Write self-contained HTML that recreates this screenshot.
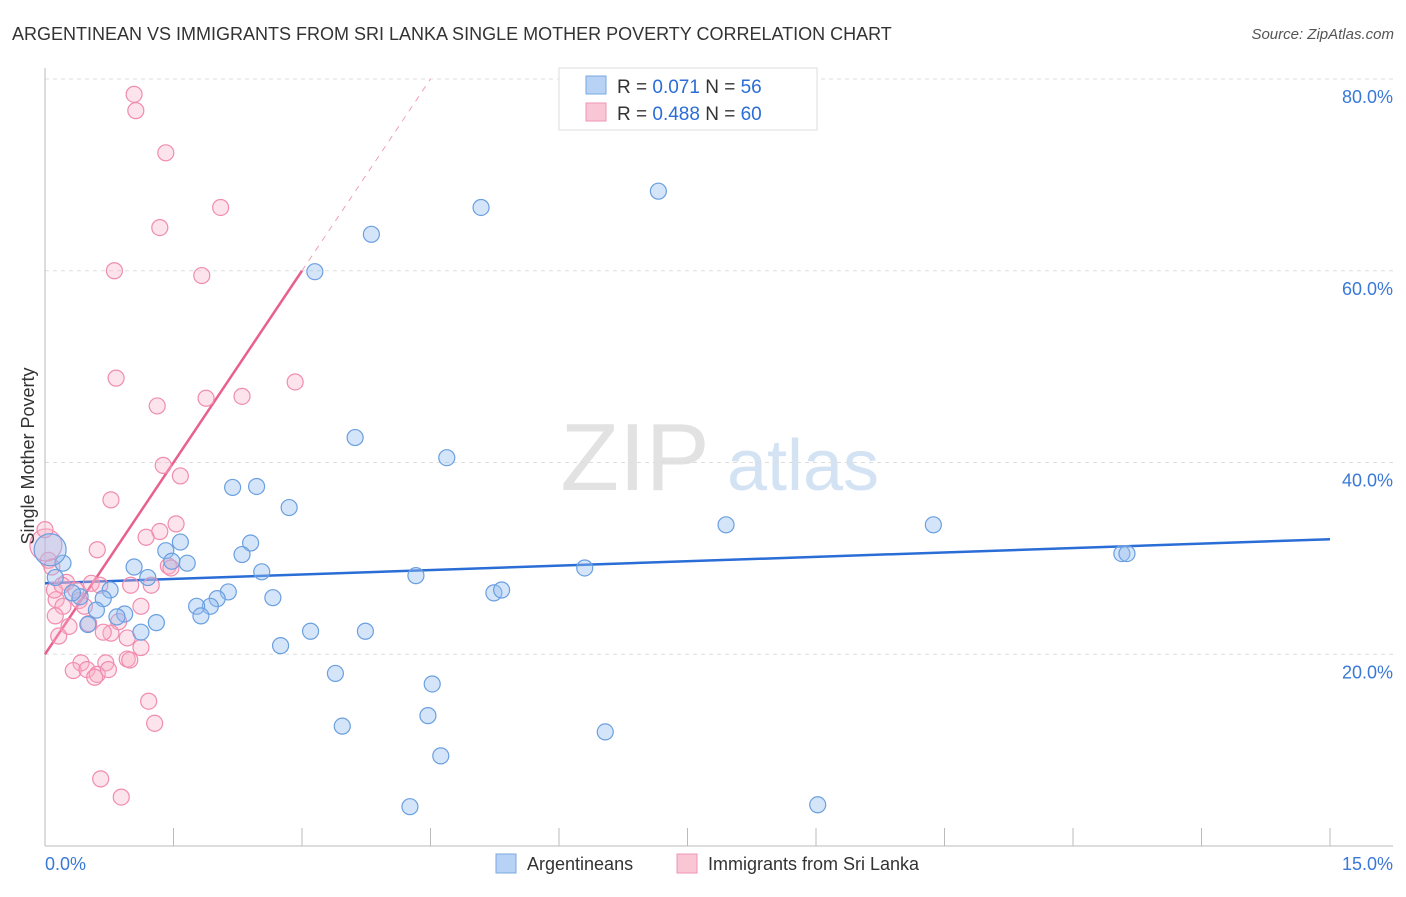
<!DOCTYPE html>
<html><head><meta charset="utf-8"><style>
body{margin:0;background:#fff;font-family:"Liberation Sans",sans-serif;}
svg text{font-family:"Liberation Sans",sans-serif;}
</style></head><body>
<svg id="chart" width="1406" height="892">
<text x="12" y="40" font-size="18" fill="#333">ARGENTINEAN VS IMMIGRANTS FROM SRI LANKA SINGLE MOTHER POVERTY CORRELATION CHART</text>
<text x="1394" y="39" font-size="15" fill="#555" font-style="italic" text-anchor="end">Source: ZipAtlas.com</text>
<g>
<text x="635" y="490" font-size="96" fill="#e2e2e2" font-family="Liberation Serif" text-anchor="middle">ZIP</text>
<text x="803" y="490" font-size="72" fill="#d3e3f3" text-anchor="middle">atlas</text>
</g>
<g id="grid"></g><g id="axes"></g><g id="lines"></g><g id="pts"></g>
<text transform="translate(34,456) rotate(-90)" font-size="18" fill="#333" text-anchor="middle">Single Mother Poverty</text>
<g>
<rect x="559" y="68" width="258" height="62" fill="#fff" stroke="#ddd"/>
<rect x="586" y="76" width="20" height="18" fill="#b7d2f4" stroke="#7aa8e0"/>
<rect x="586" y="103" width="20" height="18" fill="#f9c6d5" stroke="#ef94b3"/>
<text x="617" y="93" font-size="19" fill="#333">R = <tspan fill="#2a6dd6">0.071</tspan>   N = <tspan fill="#2a6dd6">56</tspan></text>
<text x="617" y="120" font-size="19" fill="#333">R = <tspan fill="#2a6dd6">0.488</tspan>   N = <tspan fill="#2a6dd6">60</tspan></text>
</g>
<g>
<rect x="496" y="854" width="20" height="19" fill="#b7d2f4" stroke="#7aa8e0"/>
<text x="527" y="870" font-size="18" fill="#333">Argentineans</text>
<rect x="677" y="854" width="20" height="19" fill="#f9c6d5" stroke="#ef94b3"/>
<text x="708" y="870" font-size="18" fill="#333">Immigrants from Sri Lanka</text>
</g>
</svg>
<script>
const xTicks=[0,1.5,3,4.5,6,7.5,9,10.5,12,13.5,15];
const yTicks=[20,40,60,80];
const blueX=[3.15,3.81,5.09,7.16,3.62,4.69,2.19,2.47,2.85,7.95,10.37,12.57,12.63,1.41,1.58,2.40,2.30,1.66,1.48,1.04,1.20,2.53,4.33,6.30,0.21,0.12,0.76,0.68,0.41,0.60,0.93,0.84,0.50,1.30,1.12,2.14,2.01,1.93,1.77,1.82,2.66,5.24,5.33,3.10,3.74,2.75,3.39,4.52,3.47,4.47,6.54,4.62,4.26,9.02,0.06,0.32];
const blueY=[59.9,63.8,66.6,68.3,42.6,40.5,37.4,37.5,35.3,33.5,33.5,30.5,30.5,30.8,31.7,31.6,30.4,29.5,29.7,29.1,28.0,28.6,28.2,29.0,29.5,28.0,26.7,25.8,26.0,24.6,24.2,23.9,23.1,23.3,22.3,26.5,25.8,25.0,25.0,24.0,25.9,26.4,26.7,22.4,22.4,20.9,18.0,16.9,12.5,13.6,11.9,9.4,4.1,4.3,30.9,26.4];
const pinkX=[1.04,1.06,1.41,2.05,1.34,0.81,1.83,2.92,0.83,1.31,1.88,2.30,1.38,1.58,0.77,1.53,1.34,1.18,0.61,0.04,0.08,0.25,0.54,1.00,1.24,1.44,0.13,0.21,0.40,0.46,1.12,0.12,0.28,0.51,0.86,0.77,0.68,0.96,0.16,1.12,0.96,0.42,0.71,0.33,0.49,0.61,0.74,0.58,1.21,1.28,0.65,0.89,0.01,0.11,0.20,0.36,0.64,0,0.99,1.47];
const pinkY=[78.4,76.7,72.3,66.6,64.5,60.0,59.5,48.4,48.8,45.9,46.7,46.9,39.7,38.6,36.1,33.6,32.8,32.2,30.9,29.8,29.1,27.5,27.4,27.2,27.2,29.2,25.7,25.0,25.6,25.0,25.0,24.0,22.9,23.2,23.4,22.2,22.3,21.7,21.9,20.7,19.5,19.1,19.1,18.3,18.4,17.9,18.4,17.6,15.1,12.8,7.0,5.1,31.4,26.7,27.2,26.7,27.2,33.0,19.4,29.0];
const blueTrend=[27.4,32.0];
const pinkTrend=[20.0,60.0,80.0];
const NS="http://www.w3.org/2000/svg";
const X=v=>45+v*(1285/15);
const Y=v=>846-v*(767/80);
function mk(p,t,a){const e=document.createElementNS(NS,t);for(const k in a)e.setAttribute(k,a[k]);document.getElementById(p).appendChild(e);return e;}
yTicks.forEach(t=>{
 const l=mk('grid','line',{x1:45,x2:1393,y1:Y(t),y2:Y(t),stroke:'#ddd','stroke-dasharray':'4,4'});
 
 
 const tx=mk('grid','text',{x:1393,y:Y(t)+24,'font-size':18,fill:'#3a78d8','text-anchor':'end'});
 tx.textContent=t.toFixed(1)+'%';
 
 
});
const ax=mk('axes','line',{x1:45,x2:1393,y1:846,y2:846,stroke:'#bbb'});


const ay=mk('axes','line',{x1:45,x2:45,y1:68,y2:846,stroke:'#bbb'});


xTicks.forEach((t,i)=>{
 const l=mk('axes','line',{x1:X(t),x2:X(t),y1:828,y2:846,stroke:'#bbb'});
 
 
});
[[0,'start'],[15,'end']].forEach(([t,a])=>{
 const tx=mk('axes','text',{x:t==0?45:1393,y:870,'font-size':18,fill:'#3a78d8','text-anchor':a});
 tx.textContent=t.toFixed(1)+'%';
 
 
});
function dots(xs,ys,fill,stroke,name){
 xs.forEach((x,i)=>{
  const big=(x<0.1&&ys[i]>30&&ys[i]<32);
  const c=mk('pts','circle',{cx:X(x),cy:Y(ys[i]),r:big?16:8,fill:fill,stroke:stroke,'stroke-width':1.2});
  
  
 });
}
dots(pinkX,pinkY,'rgba(248,176,198,0.35)','#f08cb0','point-sri-lanka');
dots(blueX,blueY,'rgba(150,190,240,0.4)','#6a9fe0','point-argentinean');
const bl=mk('lines','line',{x1:X(0),y1:Y(blueTrend[0]),x2:X(15),y2:Y(blueTrend[1]),stroke:'#2a6dd6','stroke-width':2.5});


const pl=mk('lines','line',{x1:X(0),y1:Y(pinkTrend[0]),x2:X(3),y2:Y(pinkTrend[1]),stroke:'#e8608e','stroke-width':2.5});


const pd=mk('lines','line',{x1:X(3),y1:Y(pinkTrend[1]),x2:X(4.5),y2:Y(pinkTrend[2]),stroke:'#f0a0b8','stroke-width':1,'stroke-dasharray':'6,6'});


</script>
</body></html>
